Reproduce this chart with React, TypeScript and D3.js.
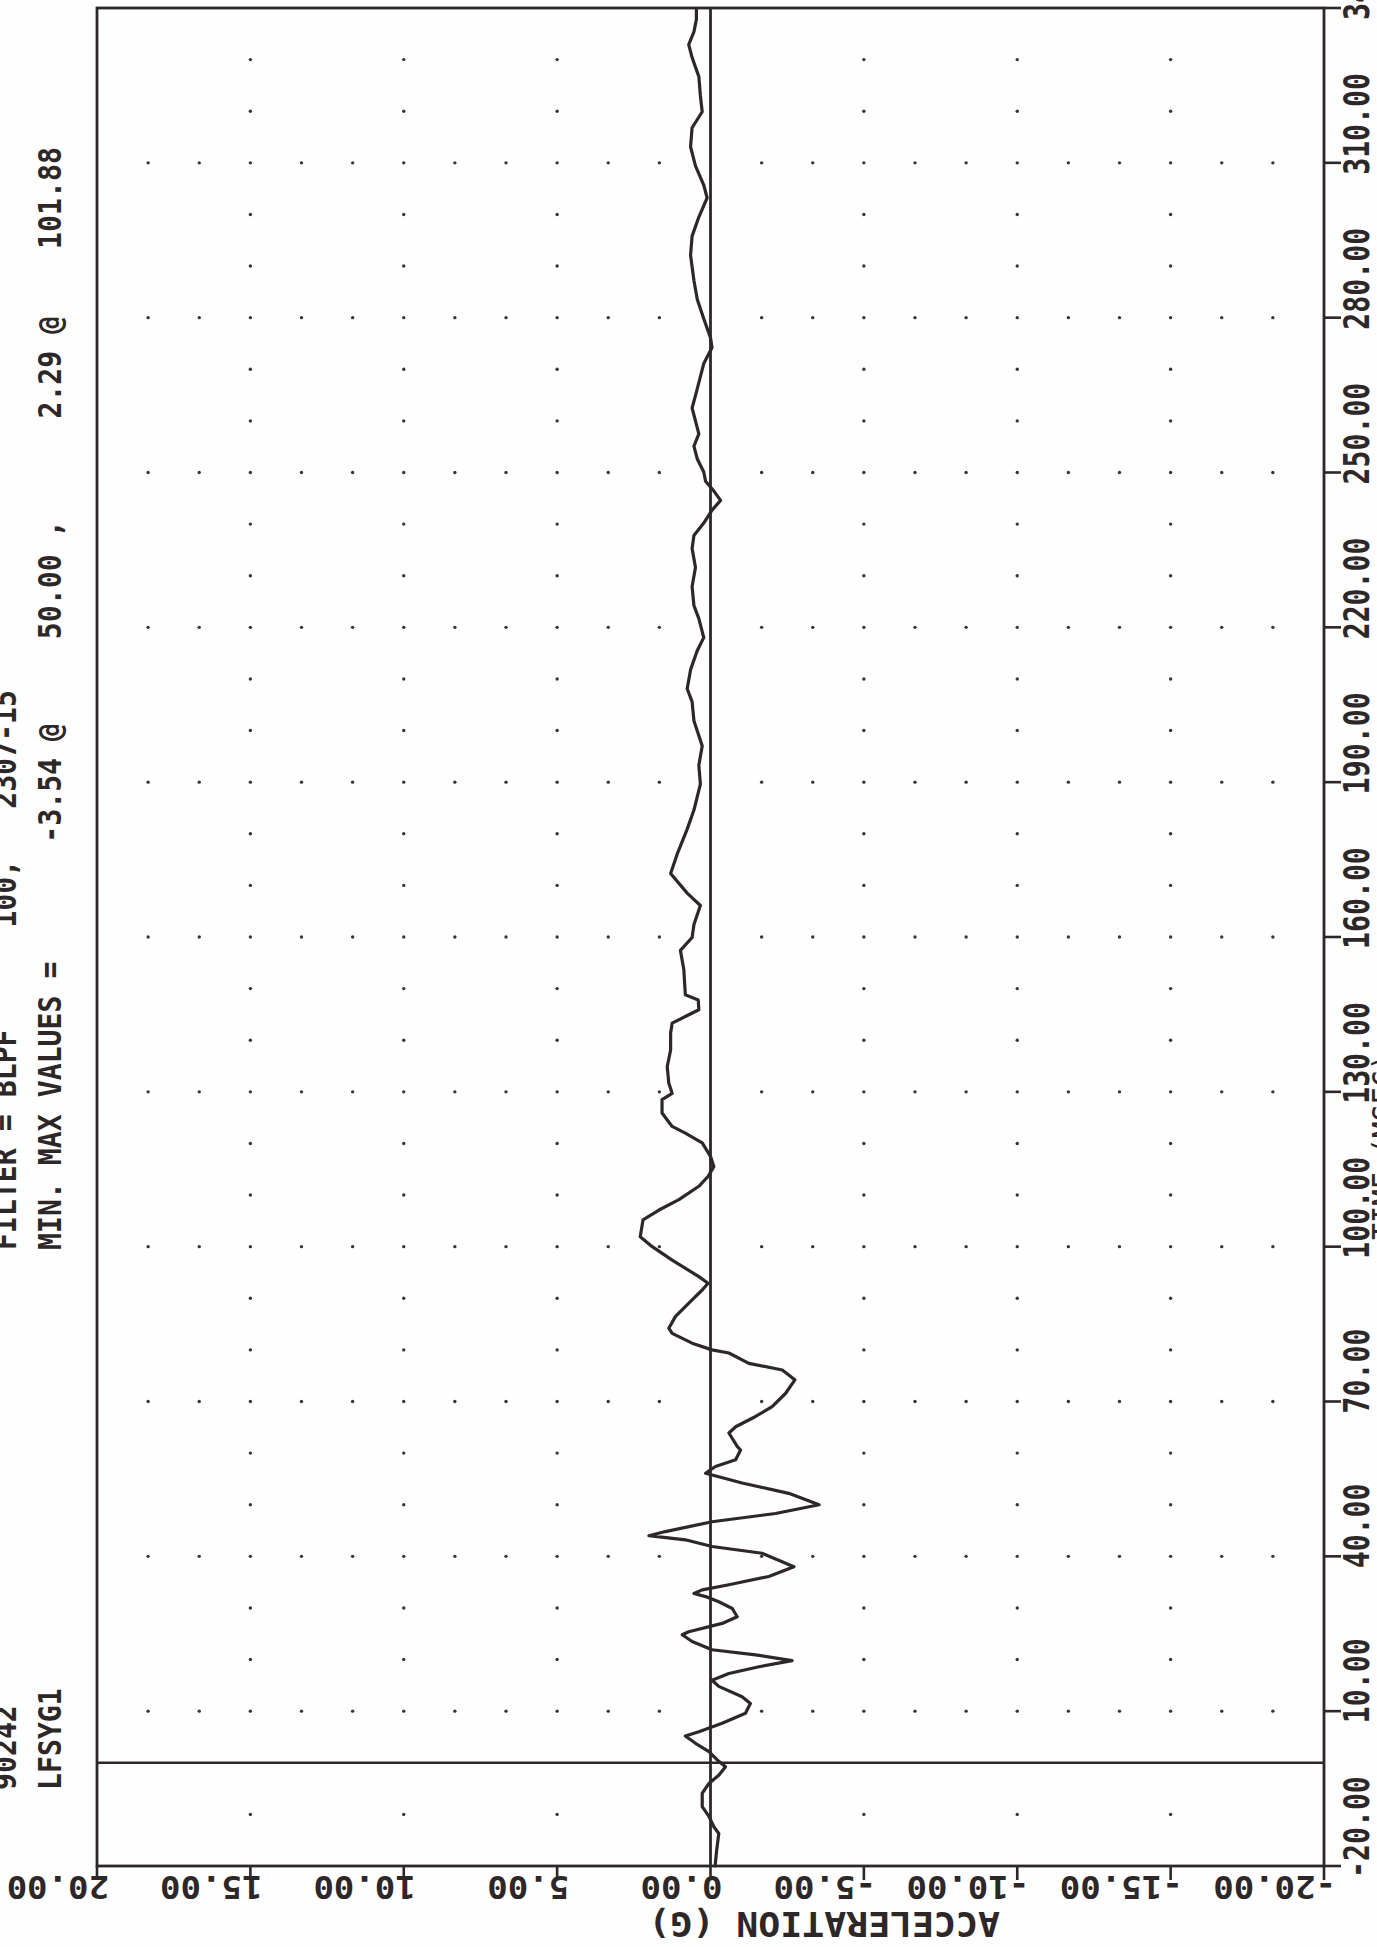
import React from "react";
import * as d3 from "d3";

const W = 1377;
const H = 1947;

// ---- data (time in msec, acceleration in G) ----
const timeMs = [
  -20, -17, -13.7, -12.4, -10.4, -8.5, -5.9, -4.0, -2.4, -0.75, 0.54, 2.16, 3.77, 5.19, 6.03, 7.65,
  9.59, 11.5, 12.8, 14.8, 16.0, 17.3, 18.6, 19.8, 20.9, 21.9, 23.5, 24.8, 25.4, 27.0, 28.3, 29.9,
  31.2, 32.2, 32.8, 33.5, 34.5, 36.1, 38.0, 40.6, 41.9, 43.2, 44.0, 44.8, 46.7, 48.3, 50.0, 52.2,
  54.2, 56.1, 57.4, 58.7, 60.6, 61.3, 63.9, 65.1, 67.1, 69.0, 71.6, 74.2, 76.1, 77.4, 79.4, 80.0,
  81.3, 83.2, 84.2, 86.5, 89.7, 91.6, 92.9, 94.2, 97.4, 100.0, 101.9, 105.2, 107.1, 109.1, 111.7,
  113.6, 115.5, 117.5, 120.1, 122.0, 123.3, 125.9, 128.5, 129.7, 131.7, 134.9, 138.1, 141.4, 143.3,
  144.6, 145.9, 147.8, 148.8, 153.7, 157.4, 159.9, 162.4, 166.1, 168.5, 172.3, 176.0, 180.9, 184.6,
  189.6, 193.3, 197.0, 201.9, 205.6, 208.1, 211.8, 215.5, 218.0, 221.7, 224.2, 227.9, 231.6, 235.3,
  237.8, 240.2, 242.7, 244.6, 246.4, 248.3, 250.1, 252.6, 255.1, 257.5, 260.0, 262.5, 264.9, 267.4,
  271.1, 274.2, 276.1, 279.8, 283.5, 287.2, 292.1, 295.8, 299.5, 303.2, 305.7, 309.4, 313.1, 316.8,
  319.9, 323.0, 326.7, 330.4, 332.9, 335.4, 337.8, 339.7,
];
const accelG = [
  -0.15, -0.2, -0.27, -0.11, 0.05, 0.27, 0.27, 0.05, -0.27, -0.49, -0.22, 0.05, 0.49, 0.82, 0.38, -0.38,
  -1.14, -1.3, -1.03, -0.27, -0.05, -0.6, -1.58, -2.66, -1.47, -0.05, 0.6, 0.92, 0.71, -0.38, -0.87, -0.71,
  -0.27, 0.16, 0.54, 0.27, -0.6, -1.9, -2.72, -1.68, -0.05, 0.82, 2.01, 1.47, -0.05, -2.12, -3.54, -2.55,
  -1.03, 0.16, -0.16, -0.82, -0.98, -0.87, -0.6, -0.82, -1.47, -2.01, -2.45, -2.75, -2.34, -1.25, -0.6, -0.05,
  0.6, 1.25, 1.36, 1.14, 0.6, 0.27, 0.08, 0.38, 1.25, 1.9, 2.29, 2.2, 1.68, 1.03, 0.38,
  0.08, -0.11, 0.0, 0.27, 0.82, 1.25, 1.58, 1.58, 1.25, 1.36, 1.41, 1.3, 1.3, 1.25,
  0.82, 0.38, 0.4, 0.82, 0.87, 0.98, 0.6, 0.54, 0.33, 0.76, 1.3, 1.09, 0.76, 0.54,
  0.33, 0.38, 0.27, 0.54, 0.6, 0.76, 0.65, 0.43, 0.22, 0.38, 0.54, 0.6, 0.49, 0.6,
  0.54, 0.22, -0.05, -0.33, -0.11, 0.16, 0.22, 0.43, 0.54, 0.38, 0.49, 0.6, 0.49, 0.38,
  0.22, -0.05, 0.0, 0.22, 0.43, 0.54, 0.65, 0.6, 0.38, 0.11, 0.22, 0.49, 0.65, 0.6,
  0.27, 0.33, 0.38, 0.6, 0.71, 0.54, 0.46, 0.46,
];

const timeTicks = [-20, 10, 40, 70, 100, 130, 160, 190, 220, 250, 280, 310, 340];
const timeTickLabels = ["-20.00", "10.00", "40.00", "70.00", "100.00", "130.00", "160.00", "190.00", "220.00", "250.00", "280.00", "310.00", "340.00"];
const accTicks = [20, 15, 10, 5, 0, -5, -10, -15, -20];
const accTickLabels = ["20.00", "15.00", "10.00", "5.00", "0.00", "-5.00", "-10.00", "-15.00", "-20.00"];
const majorAcc = [15, 10, 5, -5, -10, -15];

const headerLine1 = ["90242", "FILTER = BLPF      100,   2307-15"];
const headerLine2 = ["LFSYG1", "MIN. MAX VALUES =       -3.54 @     50.00 ,      2.29 @    101.88"];
const accTitle = "ACCELERATION (G)";
const timeTitle = "TIME (MSEC)";

const INK = "#2e2727";
const FONT = "'DejaVu Sans Mono', 'Liberation Mono', monospace";

const x = d3.scaleLinear().domain([20, -20]).range([97, 1324]);
const y = d3.scaleLinear().domain([-20, 340]).range([1866, 8]);

type RT = { tx: number; ty: number; angle: number; sy: number; size: number; text: string; weight?: string | number };
function RotText({ tx, ty, angle, sy, size, text, weight = "bold" }: RT) {
  return (
    <g transform={`translate(${tx},${ty}) rotate(${angle}) scale(1,${sy})`}>
      <text
        x={0}
        y={0}
        fontFamily={FONT}
        fontSize={size}
        fontWeight={weight}
        fill={INK}
        textAnchor="start"
        style={{ whiteSpace: "pre" }}
      >
        {text}
      </text>
    </g>
  );
}

export default function App() {
  const data = timeMs.map((t, i) => ({ t, a: accelG[i] }));
  const line = d3
    .line<{ t: number; a: number }>()
    .x((d) => x(d.a))
    .y((d) => y(d.t));

  // grid dots
  const rows = d3.range(-10, 331, 10).filter((t) => t !== 0);
  const minorAcc = d3.range(1, 24).map((k) => 20 - (k * 5) / 3).filter((v) => Math.abs(v) > 0.01);
  const dots: { cx: number; cy: number }[] = [];
  rows.forEach((t) => {
    const full = (t - 10) % 30 === 0;
    const cols = full ? minorAcc : majorAcc;
    cols.forEach((a) => dots.push({ cx: x(a), cy: y(t) }));
  });

  const left = x(20);
  const right = x(-20);
  const top = y(340);
  const bottom = y(-20);

  const timeFont = 28.2;
  const accFont = 34;

  return (
    <div style={{ position: "absolute", left: 0, top: 0, width: W, height: H, overflow: "hidden" }}>
      <svg width={W} height={H} viewBox={`0 0 ${W} ${H}`} style={{ display: "block", background: "#fefefe" }}>
        <rect x={0} y={0} width={W} height={H} fill="#fefefe" />

        {/* grid dots */}
        {dots.map((d, i) => (
          <circle key={i} cx={d.cx} cy={d.cy} r={1.7} fill="#3a3333" />
        ))}

        {/* frame */}
        <rect x={left} y={top} width={right - left} height={bottom - top} fill="none" stroke={INK} strokeWidth={2.8} />

        {/* zero lines */}
        <line x1={x(0)} x2={x(0)} y1={top} y2={bottom} stroke={INK} strokeWidth={2.8} />
        <line x1={left} x2={right} y1={y(0)} y2={y(0)} stroke={INK} strokeWidth={2.6} />

        {/* acceleration ticks */}
        {accTicks.map((v) => (
          <line key={"at" + v} x1={x(v)} x2={x(v)} y1={bottom} y2={bottom + 14} stroke={INK} strokeWidth={2.6} />
        ))}
        {/* time ticks */}
        {timeTicks.map((v) => (
          <line key={"tt" + v} x1={right} x2={right + 17} y1={y(v)} y2={y(v)} stroke={INK} strokeWidth={2.6} />
        ))}

        {/* acceleration tick labels (upside down) */}
        {accTicks.map((v, i) => (
          <RotText key={"al" + v} tx={x(v) + 12} ty={1876} angle={180} sy={0.96} size={accFont} text={accTickLabels[i]} />
        ))}
        <RotText tx={1000} ty={1912} angle={180} sy={0.92} size={36.5} text={accTitle} />

        {/* time tick labels (reading upward) */}
        {timeTicks.map((v, i) => (
          <RotText key={"tl" + v} tx={1369} ty={y(v) + 12} angle={-90} sy={1.26} size={timeFont} text={timeTickLabels[i]} />
        ))}
        <RotText tx={1397} ty={1240} angle={-90} sy={1.2} size={timeFont} text={timeTitle} weight="normal" />

        {/* header */}
        <RotText tx={16} ty={1790} angle={-90} sy={1.12} size={timeFont} text={headerLine1[0]} />
        <RotText tx={16} ty={1250} angle={-90} sy={1.12} size={timeFont} text={headerLine1[1]} />
        <RotText tx={61} ty={1790} angle={-90} sy={1.12} size={timeFont} text={headerLine2[0]} />
        <RotText tx={61} ty={1250} angle={-90} sy={1.12} size={timeFont} text={headerLine2[1]} />

        {/* curve */}
        <path d={line(data) || ""} fill="none" stroke={INK} strokeWidth={3.2} strokeLinejoin="round" strokeLinecap="round" />
      </svg>
    </div>
  );
}
